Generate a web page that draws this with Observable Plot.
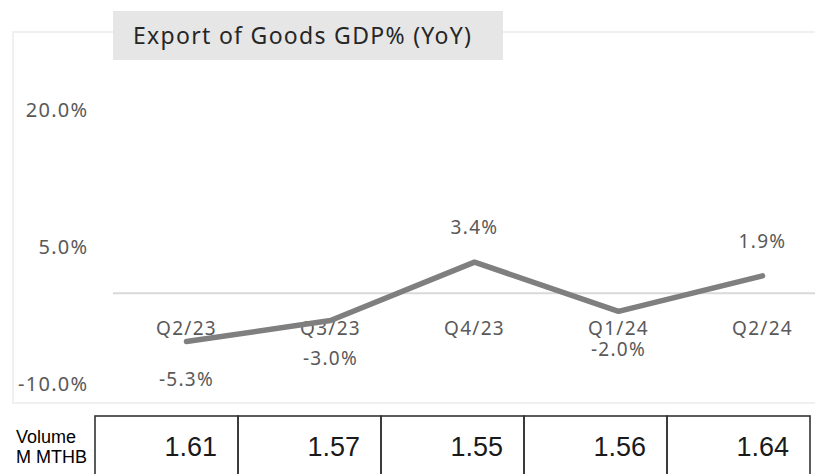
<!DOCTYPE html>
<html>
<head>
<meta charset="utf-8">
<script src="https://cdn.jsdelivr.net/npm/d3@7"></script>
<script src="https://cdn.jsdelivr.net/npm/@observablehq/plot@0.6"></script>
<style>
  html, body { margin: 0; padding: 0; background: #fff; overflow: hidden; }
  #wrap { position: relative; width: 815px; height: 474px; overflow: hidden; font-family: "Noto Sans", sans-serif; }
  .fl { position: absolute; background: #f0f0f0; }
  #chart { position: absolute; left: 0; top: 0; }
  #title { position: absolute; left: 113px; top: 11px; width: 390px; height: 49px; background: #e6e6e6; color: #262626;
           font-size: 23px; letter-spacing: 1.3px; line-height: 49px; padding-left: 20px; box-sizing: border-box; white-space: nowrap; }
  #table { position: absolute; left: 0; top: 410px; width: 815px; height: 64px; overflow: hidden; }
  #rowlabel { position: absolute; left: 16px; top: 427px; font-family: "Liberation Sans", Arial, sans-serif; font-size: 18px; line-height: 20px; color: #000; }
  #chart text { letter-spacing: 1.3px; }
</style>
</head>
<body>
<div id="wrap">
  <div class="fl" style="left:12px;top:31px;width:803px;height:2px"></div>
  <div class="fl" style="left:12px;top:31px;width:2px;height:373px"></div>
  <div class="fl" style="left:12px;top:402px;width:803px;height:2px"></div>
  <div id="chart"></div>
  <div id="title">Export of Goods GDP% (YoY)</div>
  <div id="table"></div>
  <div id="rowlabel">Volume<br>M MTHB</div>
</div>
<script>
const categories = ["Q2/23", "Q3/23", "Q4/23", "Q1/24", "Q2/24"];
const growth = [-5.3, -3.0, 3.4, -2.0, 1.9];
const volume = ["1.61", "1.57", "1.55", "1.56", "1.64"];
const yTicks = [20, 5, -10];

const data = categories.map((c, i) => ({cat: c, v: growth[i], vol: volume[i]}));
const fmt = d => d.toFixed(1) + "%";

const chart = Plot.plot({
  width: 815,
  height: 410,
  marginLeft: 113,
  marginRight: 0,
  marginTop: 0,
  marginBottom: 0,
  style: {background: "transparent", fontFamily: "'Noto Sans', sans-serif", fontSize: "19px", color: "#595959"},
  x: {type: "point", domain: categories, range: [185, 762], padding: 0, axis: null},
  y: {domain: [-10, 20], range: [384, 110], axis: null},
  marks: [
    Plot.axisY(yTicks, {tickSize: 0, tickPadding: 25, tickFormat: fmt, fontSize: 20, fill: "#595959", label: null}),
    Plot.ruleY([0], {stroke: "#d9d9d9", strokeWidth: 2}),
    Plot.text(data, {x: "cat", y: () => 0, text: "cat", dy: 36, fontSize: 19, fill: "#595959"}),
    Plot.line(data, {x: "cat", y: "v", stroke: "#7f7f7f", strokeWidth: 5.5, strokeLinejoin: "miter"}),
    Plot.text(data.filter(d => d.v < 0), {x: "cat", y: "v", text: d => fmt(d.v), dy: 38, fontSize: 19, fill: "#595959"}),
    Plot.text(data.filter(d => d.v >= 0), {x: "cat", y: "v", text: d => fmt(d.v), dy: -34, fontSize: 19, fill: "#595959"})
  ]
});
document.getElementById("chart").appendChild(chart);

const table = Plot.plot({
  width: 815,
  height: 80,
  marginTop: 6,
  marginBottom: 0,
  marginLeft: 0,
  marginRight: 0,
  style: {background: "transparent", fontFamily: "'Liberation Sans', Arial, sans-serif", color: "#000"},
  x: {type: "band", domain: categories, range: [93, 812], padding: 0, axis: null},
  marks: [
    Plot.cell(data, {x: "cat", fill: "none", stroke: "#333", strokeWidth: 1.6, inset: 0}),
    Plot.text(data, {x: "cat", text: "vol", textAnchor: "end", dx: 50, dy: -6, fontSize: 27, fill: "#1a1a1a", letterSpacing: "-1px"})
  ]
});
document.getElementById("table").appendChild(table);
</script>
</body>
</html>
